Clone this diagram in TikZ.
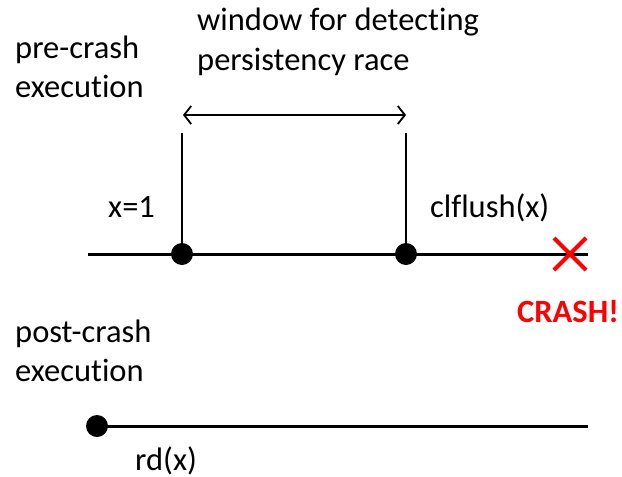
\documentclass[tikz,border=0pt]{standalone}
\usepackage{fontspec}
\setmainfont{Carlito}[Ligatures=NoCommon]
\usetikzlibrary{arrows.meta,calc}
\begin{document}
\begin{tikzpicture}[x=1pt,y=-1pt,
  lbl/.style={anchor=base west,inner sep=0pt,font=\fontsize{32.5}{40}\selectfont},
  timeline/.style={line width=3pt},
  event/.style={circle,fill=black,inner sep=0pt,minimum size=22pt},
  marker/.style={line width=1.8pt},
  crashx/.style={red,line width=4pt}]
\useasboundingbox (0,0) rectangle (622,477);

% pre-crash execution
\node[lbl] (pre1) at (15,58) {pre-crash};
\node[lbl] (pre2) at (15,97) {execution};
\node[lbl] (win1) at (197,30) {window for detecting};
\node[lbl] (win2) at (197,70) {persistency race};

\coordinate (tl0) at (88,254);
\coordinate (tl1) at (588,254);
\draw[timeline] (tl0) -- (tl1);
\node[event] (w) at (182,254) {};
\node[event] (f) at (406,254) {};
\coordinate (wt) at (182,133);
\coordinate (ft) at (406,133);
\draw[marker] (w.center) -- (wt);
\draw[marker] (f.center) -- (ft);
\coordinate (al) at (183,115);
\coordinate (ar) at (406,115);
\draw[marker,{Straight Barb[length=7pt,width=18pt,line width=1.8pt]}-{Straight Barb[length=7pt,width=18pt,line width=1.8pt]}] (al) -- (ar);

\node[lbl] (xw) at (108,217) {x=1};
\node[lbl] (cf) at (430,217) {clflush(x)};

\coordinate (cx) at (570,254);
\draw[crashx] ($(cx)+(-16,-16)$) -- ($(cx)+(16,16)$);
\draw[crashx] ($(cx)+(-16,16)$) -- ($(cx)+(16,-16)$);
\node[lbl,text=red,font=\fontsize{32.5}{40}\selectfont\bfseries] (crash) at (517,322) {CRASH!};

% post-crash execution
\node[lbl] (post1) at (15,342) {post-crash};
\node[lbl] (post2) at (15,381) {execution};
\node[event] (r) at (97,426) {};
\coordinate (bl1) at (588,426);
\draw[timeline] (r.center) -- (bl1);
\node[lbl] (rd) at (135,470) {rd(x)};
\end{tikzpicture}
\end{document}
